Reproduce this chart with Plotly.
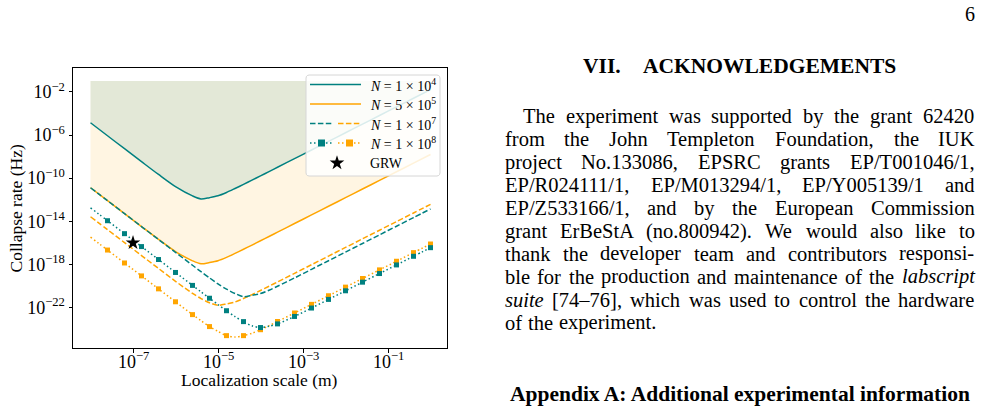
import numpy as np
import plotly.graph_objects as go

# ---------------- data (log10 values) ----------------
LOG_RC = [-8.0, -7.6, -7.2, -6.8, -6.4, -6.0, -5.6, -5.4, -5.2, -5.0, -4.8, -4.6, -4.4,
          -4.2, -4.0, -3.8, -3.6, -3.2, -2.8, -2.4, -2.0, -1.6, -1.2, -0.8, -0.4, 0.0]

LOG_N1E4 = [-4.86, -6.07, -7.27, -8.47, -9.66, -10.79, -11.65, -11.93, -11.81, -11.64, -11.33,
            -10.96, -10.58, -10.19, -9.79, -9.39, -8.99, -8.19, -7.39, -6.59, -5.79, -4.99,
            -4.19, -3.39, -2.59, -1.79]
LOG_N5E5 = [-10.89, -12.09, -13.29, -14.49, -15.68, -16.81, -17.67, -17.95, -17.83, -17.66,
            -17.35, -16.98, -16.60, -16.21, -15.81, -15.41, -15.01, -14.21, -13.41, -12.61,
            -11.81, -11.01, -10.21, -9.41, -8.61, -7.81]
LOG_N1E7_TEAL = [-10.89, -12.09, -13.29, -14.49, -15.69, -16.89, -18.08, -18.68, -19.25, -19.81,
                 -20.30, -20.70, -21.00, -20.87, -20.71, -20.40, -20.03, -19.26, -18.46, -17.66,
                 -16.86, -16.06, -15.26, -14.46, -13.66, -12.86]
LOG_N1E7_ORANGE = [-13.58, -14.78, -15.98, -17.18, -18.38, -19.57, -20.69, -21.17, -21.56, -21.80,
                   -21.67, -21.49, -21.17, -20.81, -20.42, -20.03, -19.63, -18.83, -18.03, -17.23,
                   -16.43, -15.63, -14.83, -14.03, -13.23, -12.43]
LOG_N1E8_TEAL = [-12.75, -13.95, -15.15, -16.35, -17.55, -18.75, -19.95, -20.55, -21.14, -21.73,
                 -22.30, -22.85, -23.31, -23.70, -23.86, -23.73, -23.52, -22.83, -22.05, -21.25,
                 -20.45, -19.65, -18.85, -18.05, -17.25, -16.45]
LOG_N1E8_ORANGE = [-15.47, -16.67, -17.87, -19.07, -20.27, -21.47, -22.66, -23.22, -23.77, -24.22,
                   -24.61, -24.74, -24.61, -24.39, -24.06, -23.69, -23.30, -22.51, -21.71, -20.91,
                   -20.11, -19.31, -18.51, -17.71, -16.91, -16.11]
LOG_FILL_TOP = -1.0
GRW_RC = [1e-7]
GRW_RATE = [1e-16]

X_TICKS = [1e-7, 1e-5, 1e-3, 1e-1]
X_TICKTEXT = ["10<sup>−7</sup>", "10<sup>−5</sup>", "10<sup>−3</sup>", "10<sup>−1</sup>"]
Y_TICKS = [1e-2, 1e-6, 1e-10, 1e-14, 1e-18, 1e-22]
Y_TICKTEXT = ["10<sup>−2</sup>", "10<sup>−6</sup>", "10<sup>−10</sup>", "10<sup>−14</sup>",
              "10<sup>−18</sup>", "10<sup>−22</sup>"]
LEGEND_LABELS = ["<i>N</i> = 1 × 10<sup>4</sup>", "<i>N</i> = 5 × 10<sup>5</sup>",
                 "<i>N</i> = 1 × 10<sup>7</sup>", "<i>N</i> = 1 × 10<sup>8</sup>", "GRW"]

BODY_LINES = [
    "The experiment was supported by the grant 62420",
    "from the John Templeton Foundation, the IUK",
    "project No.133086, EPSRC grants EP/T001046/1,",
    "EP/R024111/1, EP/M013294/1, EP/Y005139/1 and",
    "EP/Z533166/1, and by the European Commission",
    "grant ErBeStA (no.800942). We would also like to",
    "thank the developer team and contributors responsi-",
    "ble for the production and maintenance of the labscript",
    "suite [74–76], which was used to control the hardware",
    "of the experiment.",
]
ITALIC_WORDS = {"labscript", "suite"}

# ---------------- styles ----------------
W, H = 983, 411
TEAL = "#008080"
ORANGE = "#FFA500"
SERIF = "Liberation Serif, Times New Roman, serif"
X_RANGE = [-8.412, 0.388]
X_DOM = [73, 447]  # pixels

x = 10 ** np.array(LOG_RC)
def vals(a):
    return 10 ** np.array(a)

fig = go.Figure()

# filled regions
fig.add_trace(go.Scatter(x=x, y=vals([LOG_FILL_TOP] * len(LOG_RC)), mode="lines",
                         line=dict(width=0), hoverinfo="skip"))
fig.add_trace(go.Scatter(x=x, y=vals(LOG_N5E5), mode="lines", line=dict(width=0),
                         fill="tonexty", fillcolor="rgba(255,165,0,0.115)", hoverinfo="skip"))
fig.add_trace(go.Scatter(x=x, y=vals([LOG_FILL_TOP] * len(LOG_RC)), mode="lines",
                         line=dict(width=0), hoverinfo="skip"))
fig.add_trace(go.Scatter(x=x, y=vals(LOG_N1E4), mode="lines", line=dict(width=0),
                         fill="tonexty", fillcolor="rgba(0,128,128,0.11)", hoverinfo="skip"))

DASH = "5.5px,2.4px"
DOT = "1.5px,2.5px"

def line(yv, color, dash="solid"):
    fig.add_trace(go.Scatter(x=x, y=vals(yv), mode="lines",
                             line=dict(color=color, width=1.5, dash=dash, shape="spline",
                                       smoothing=0.8)))

line(LOG_N1E4, TEAL)
line(LOG_N5E5, ORANGE)
line(LOG_N1E7_ORANGE, ORANGE, DASH)
line(LOG_N1E7_TEAL, TEAL, DASH)
line(LOG_N1E8_ORANGE, ORANGE, DOT)
line(LOG_N1E8_TEAL, TEAL, DOT)

mk = [i for i, v in enumerate(LOG_RC)
      if v > -8 and abs((v + 8) / 0.4 - round((v + 8) / 0.4)) < 1e-6]
for yv, color in ((LOG_N1E8_ORANGE, ORANGE), (LOG_N1E8_TEAL, TEAL)):
    fig.add_trace(go.Scatter(x=x[mk], y=vals(yv)[mk], mode="markers",
                             marker=dict(symbol="square", size=5, color=color,
                                         line=dict(width=0))))

fig.add_trace(go.Scatter(x=GRW_RC, y=GRW_RATE, mode="markers",
                         marker=dict(symbol="star", size=11, color="black",
                                     line=dict(width=0))))

# ---------------- custom legend on a pixel overlay ----------------
def px(t):
    return dict(xaxis="x2", yaxis="y2", hoverinfo="skip", **t)

lx0, ly0, lx1, ly1, r = 306, 75, 440, 176, 3
th = np.linspace(0, np.pi / 2, 6)
bx, by = [], []
for cx, cy, a0 in ((lx1 - r, ly0 + r, -np.pi / 2), (lx1 - r, ly1 - r, 0),
                   (lx0 + r, ly1 - r, np.pi / 2), (lx0 + r, ly0 + r, np.pi)):
    bx += list(cx + r * np.cos(a0 + th))
    by += list(cy + r * np.sin(a0 + th))
bx.append(bx[0]); by.append(by[0])
fig.add_trace(go.Scatter(**px(dict(x=bx, y=by, mode="lines", fill="toself",
                                   fillcolor="rgba(255,255,255,0.85)",
                                   line=dict(color="#d6d6d6", width=1)))))
ROWS = [84.5, 104, 123.5, 143, 163]
fig.add_trace(go.Scatter(**px(dict(x=[310, 361], y=[ROWS[0]] * 2, mode="lines",
                                   line=dict(color=TEAL, width=1.5)))))
fig.add_trace(go.Scatter(**px(dict(x=[310, 361], y=[ROWS[1]] * 2, mode="lines",
                                   line=dict(color=ORANGE, width=1.5)))))
fig.add_trace(go.Scatter(**px(dict(x=[310, 333], y=[ROWS[2]] * 2, mode="lines",
                                   line=dict(color=TEAL, width=1.5, dash=DASH)))))
fig.add_trace(go.Scatter(**px(dict(x=[338, 361], y=[ROWS[2]] * 2, mode="lines",
                                   line=dict(color=ORANGE, width=1.5, dash=DASH)))))
fig.add_trace(go.Scatter(**px(dict(x=[310, 333], y=[ROWS[3]] * 2, mode="lines",
                                   line=dict(color=TEAL, width=1.5, dash=DOT)))))
fig.add_trace(go.Scatter(**px(dict(x=[338, 361], y=[ROWS[3]] * 2, mode="lines",
                                   line=dict(color=ORANGE, width=1.5, dash=DOT)))))
fig.add_trace(go.Scatter(**px(dict(x=[321.5], y=[ROWS[3]], mode="markers",
                                   marker=dict(symbol="square", size=7, color=TEAL)))))
fig.add_trace(go.Scatter(**px(dict(x=[349.5], y=[ROWS[3]], mode="markers",
                                   marker=dict(symbol="square", size=7, color=ORANGE)))))
fig.add_trace(go.Scatter(**px(dict(x=[337], y=[ROWS[4]], mode="markers",
                                   marker=dict(symbol="star", size=11, color="black",
                                               line=dict(width=0))))))

ann = []
def text(t, xp, yp, size, xanchor="left", angle=0, color="black"):
    ann.append(dict(text=t, x=xp / W, y=1 - yp / H, xref="paper", yref="paper",
                    xanchor=xanchor, yanchor="middle", showarrow=False, textangle=angle,
                    borderpad=0, borderwidth=0,
                    font=dict(family=SERIF, size=size, color=color)))

for lab, yy in zip(LEGEND_LABELS, ROWS):
    text(lab, 370, yy, 14)

# x tick labels placed just under the axis
for tv, tt in zip(X_TICKS, X_TICKTEXT):
    frac = (np.log10(tv) - X_RANGE[0]) / (X_RANGE[1] - X_RANGE[0])
    text(tt, X_DOM[0] + frac * (X_DOM[1] - X_DOM[0]), 360, 18, xanchor="center")

# axis titles
text("Collapse rate (Hz)", 15.5, 209, 17.5, xanchor="center", angle=-90)
text("Localization scale (m)", 259.7, 380, 17.5, xanchor="center")

# ---------------- page text ----------------
ROMAN = {' ': 250, 'a': 444, 'b': 500, 'c': 444, 'd': 500, 'e': 444, 'f': 333, 'g': 500,
         'h': 500, 'i': 278, 'j': 278, 'k': 500, 'l': 278, 'm': 778, 'n': 500, 'o': 500,
         'p': 500, 'q': 500, 'r': 333, 's': 389, 't': 278, 'u': 500, 'v': 500, 'w': 722,
         'x': 500, 'y': 500, 'z': 444, 'A': 722, 'B': 667, 'C': 667, 'D': 722, 'E': 611,
         'F': 556, 'G': 722, 'H': 722, 'I': 333, 'J': 389, 'K': 722, 'L': 611, 'M': 889,
         'N': 722, 'O': 722, 'P': 556, 'Q': 722, 'R': 667, 'S': 556, 'T': 611, 'U': 722,
         'V': 722, 'W': 944, 'X': 722, 'Y': 722, 'Z': 611, ',': 250, '.': 250, '/': 278,
         '(': 333, ')': 333, '[': 333, ']': 333, '-': 333, '–': 500, ':': 278}
for d in "0123456789":
    ROMAN[d] = 500
ITALIC = dict(ROMAN)
ITALIC.update({'a': 500, 'f': 278, 'k': 444, 'm': 722, 'r': 389, 'v': 444, 'w': 667,
               'x': 444, 'y': 444, 'z': 389})

BODY = 20.5
def wwidth(wd, italic):
    tab = ITALIC if italic else ROMAN
    return sum(tab.get(c, 500) for c in wd) * BODY / 1000.0

LEFT, RIGHT, INDENT = 505, 974.5, 523
Y0, DY = 116.5, 22.9
for i, ln in enumerate(BODY_LINES):
    words = ln.split()
    its = [w in ITALIC_WORDS for w in words]
    widths = [wwidth(w, it) for w, it in zip(words, its)]
    x0 = INDENT if i == 0 else LEFT
    if i == len(BODY_LINES) - 1:
        gap = 0.3 * BODY
    else:
        gap = (RIGHT - x0 - sum(widths)) / (len(words) - 1)
    xx = x0
    yy = Y0 + DY * i
    for w, it, wd in zip(words, its, widths):
        text(f"<i>{w}</i>" if it else w, xx, yy, BODY)
        xx += wd + gap

text("6", 970, 14, 20, xanchor="center")
text("<b>VII.</b>", 583, 66, 21.5)
text("<b>ACKNOWLEDGEMENTS</b>", 643, 66, 21.5)
text("<b>Appendix A: Additional experimental information</b>", 739.5, 394, 21.5,
     xanchor="center")

axis_common = dict(showline=True, linecolor="black", linewidth=1, mirror=True,
                   ticks="outside", ticklen=3.5, tickwidth=0.8, tickcolor="black",
                   showgrid=False, zeroline=False,
                   tickfont=dict(family=SERIF, size=18, color="black"))

fig.update_layout(
    width=W, height=H, margin=dict(l=0, r=0, t=0, b=0),
    paper_bgcolor="white", plot_bgcolor="rgba(0,0,0,0)", showlegend=False,
    xaxis=dict(type="log", range=X_RANGE, domain=[X_DOM[0] / W, X_DOM[1] / W],
               tickmode="array", tickvals=X_TICKS, showticklabels=False, anchor="y",
               **axis_common),
    yaxis=dict(type="log", range=[-25.757, 0.217], domain=[1 - 348 / H, 1 - 68 / H],
               tickmode="array", tickvals=Y_TICKS, ticktext=Y_TICKTEXT, anchor="x",
               **axis_common),
    xaxis2=dict(domain=[0, 1], range=[0, W], anchor="y2", visible=False, fixedrange=True),
    yaxis2=dict(domain=[0, 1], range=[H, 0], anchor="x2", visible=False, fixedrange=True),
    annotations=ann,
)

fig.write_html("out.html")
